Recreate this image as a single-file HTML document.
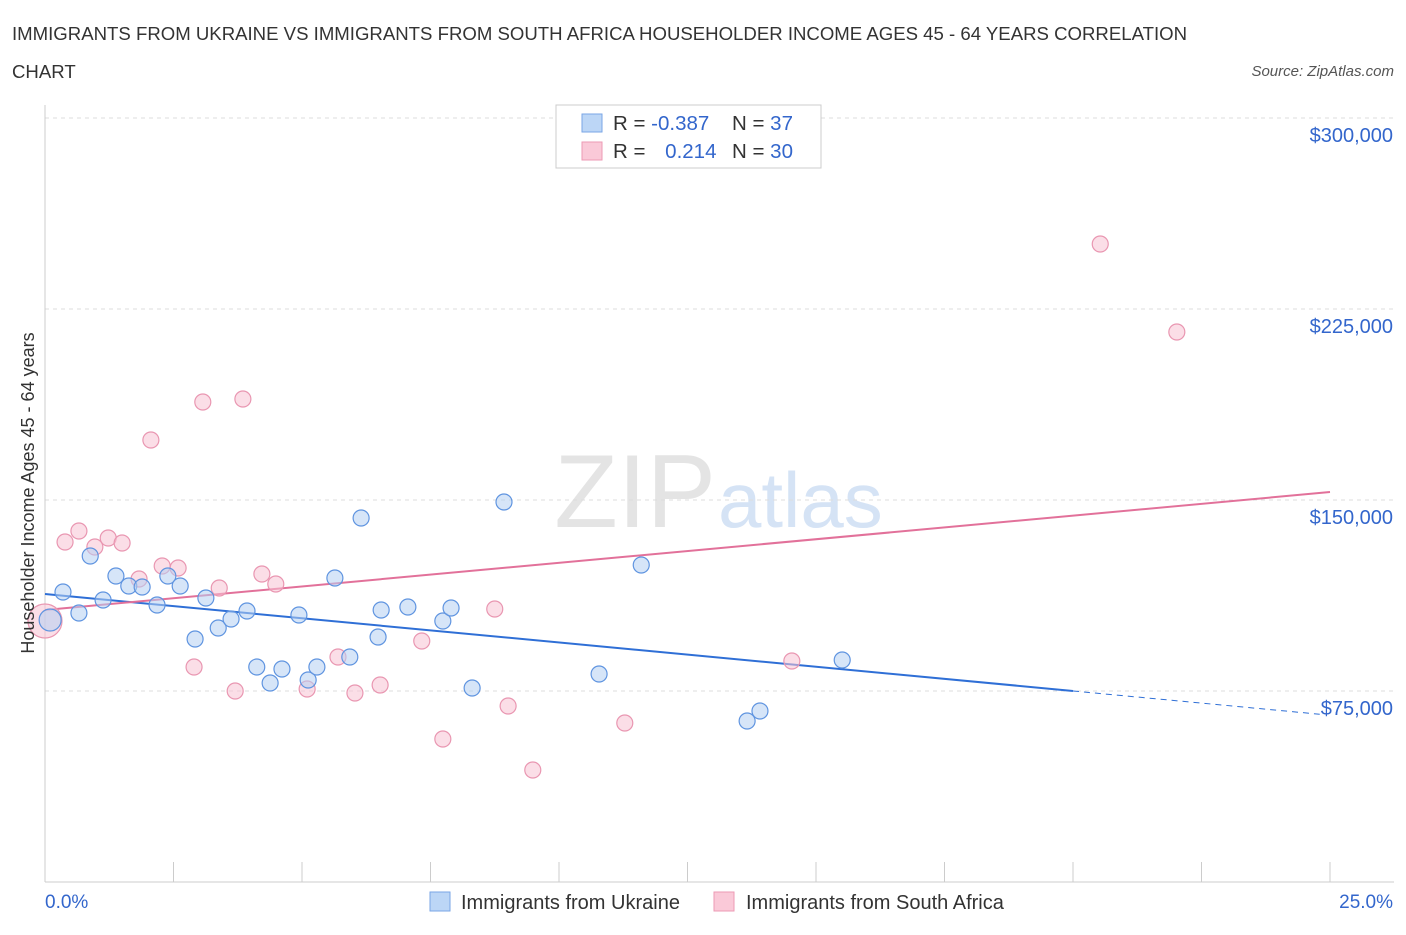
<!DOCTYPE html>
<html><head><meta charset="utf-8"><style>
body{margin:0;background:#fff;font-family:"Liberation Sans",sans-serif;}
svg text{font-family:"Liberation Sans",sans-serif;}
</style></head><body>
<svg id="chart" width="1406" height="930" xmlns="http://www.w3.org/2000/svg">
<text x="12" y="40" font-size="18.6" fill="#333">IMMIGRANTS FROM UKRAINE VS IMMIGRANTS FROM SOUTH AFRICA HOUSEHOLDER INCOME AGES 45 - 64 YEARS CORRELATION</text>
<text x="12" y="78" font-size="18.6" fill="#333">CHART</text>
<text x="1394" y="76" font-size="15" fill="#555" font-style="italic" text-anchor="end">Source: ZipAtlas.com</text>
<text x="716" y="527" font-size="104" text-anchor="end" fill="#e4e4e4" font-family="Liberation Serif">ZIP</text>
<text x="718" y="527" font-size="78" fill="#d5e3f5">atlas</text>
<g id="grid"></g>
<g id="axes"></g>
<g id="lines"></g>
<g id="pts"></g>
<text transform="translate(34,493) rotate(-90)" font-size="18" fill="#333" text-anchor="middle">Householder Income Ages 45 - 64 years</text>
<g>
<rect x="556" y="105" width="265" height="63" fill="#fff" stroke="#ccc"/>
<rect x="582" y="114" width="20" height="18" fill="#bcd6f6" stroke="#7aa6e6"/>
<rect x="582" y="142" width="20" height="18" fill="#fac9d8" stroke="#ec9ab4"/>
<text x="613" y="130" font-size="20.5" fill="#333">R = <tspan fill="#3366cc">-0.387</tspan></text>
<text x="732" y="130" font-size="20.5" fill="#333">N = <tspan fill="#3366cc">37</tspan></text>
<text x="613" y="158" font-size="20.5" fill="#333">R = <tspan fill="#3366cc" dx="14">0.214</tspan></text>
<text x="732" y="158" font-size="20.5" fill="#333">N = <tspan fill="#3366cc">30</tspan></text>
</g>
<g>
<rect x="430" y="892" width="20" height="19" fill="#bcd6f6" stroke="#7aa6e6"/>
<text x="461" y="909" font-size="20" fill="#333">Immigrants from Ukraine</text>
<rect x="714" y="892" width="20" height="19" fill="#fac9d8" stroke="#ec9ab4"/>
<text x="746" y="909" font-size="20" fill="#333">Immigrants from South Africa</text>
</g>
</svg>
<script>
const xTicksPct=[0,2.5,5,7.5,10,12.5,15,17.5,20,22.5,25];
const yTickVals=[75000,150000,225000,300000];
const yTickLabels=["$75,000","$150,000","$225,000","$300,000"];
const ukraineX=[0.1,0.35,0.66,0.88,1.13,1.38,1.63,1.89,2.18,2.39,2.63,2.92,3.13,3.37,3.62,3.93,4.12,4.38,4.61,4.94,5.12,5.29,5.64,5.93,6.15,6.48,6.54,7.06,7.74,7.90,8.31,8.93,10.78,11.60,13.66,13.91,15.51];
const ukraineY=[102880,113870,105630,128010,110730,120160,116230,115840,108770,120160,116230,95420,111520,99740,103270,106410,84420,78140,83640,104840,79320,84420,119370,88350,142930,96200,106800,107980,102490,107590,76180,149210,81680,124480,63220,67150,87170];
const safricaX=[0,0.39,0.66,0.97,1.23,1.5,1.83,2.06,2.28,2.59,2.9,3.07,3.39,3.7,3.85,4.22,4.49,5.1,5.7,6.03,6.52,7.33,7.74,8.75,9.01,9.49,11.28,14.53,20.53,22.02];
const safricaY=[102490,133510,137830,131540,135080,133120,118980,173560,124080,123300,84420,188480,115450,75000,189660,120940,117020,75790,88350,74210,77360,94630,56150,107200,69110,43980,62430,86780,250520,215970];
const blueTrend=[113090,-1904];
const pinkTrend=[106800,1853];
const NS="http://www.w3.org/2000/svg";
const X=v=>45+v*51.4, Y=v=>882-v/75000*191;
function mk(t,a,p){const e=document.createElementNS(NS,t);for(const k in a)e.setAttribute(k,a[k]);p.appendChild(e);return e;}
const grid=document.getElementById('grid'),axes=document.getElementById('axes'),lines=document.getElementById('lines'),pts=document.getElementById('pts');
yTickVals.forEach((v,i)=>{
 const l=mk('line',{x1:45,x2:1394,y1:Y(v),y2:Y(v),stroke:'#ddd','stroke-dasharray':'4,4'},grid);
 
 
 const t=mk('text',{x:1393,y:Y(v)+24,'font-size':20,fill:'#3366cc','text-anchor':'end'},grid);
 t.textContent=yTickLabels[i];
 
 
});
const xa=mk('line',{x1:45,x2:1394,y1:882,y2:882,stroke:'#ccc'},axes);


const ya=mk('line',{x1:45,x2:45,y1:105,y2:882,stroke:'#ccc'},axes);


xTicksPct.forEach(v=>{const t=mk('line',{x1:X(v),x2:X(v),y1:862,y2:882,stroke:'#ccc'},axes);
 
 });
[["0.0%",45,"start"],["25.0%",1393,"end"]].forEach(a=>{const t=mk('text',{x:a[1],y:908,'font-size':19,fill:'#3366cc','text-anchor':a[2]},axes);t.textContent=a[0];
 
 });
const bt=v=>blueTrend[0]+blueTrend[1]*v, pt=v=>pinkTrend[0]+pinkTrend[1]*v;
let l1=mk('line',{x1:X(0),y1:Y(bt(0)),x2:X(20),y2:Y(bt(20)),stroke:'#2f6fd6','stroke-width':2},lines);


let l2=mk('line',{x1:X(20),y1:Y(bt(20)),x2:X(24.8),y2:Y(bt(24.8)),stroke:'#2f6fd6','stroke-width':1,'stroke-dasharray':'6,5'},lines);


let l3=mk('line',{x1:X(0),y1:Y(pt(0)),x2:X(25),y2:Y(pt(25)),stroke:'#e2719a','stroke-width':2},lines);


function dots(xs,ys,fill,stroke,name){xs.forEach((x,i)=>{const r=i===0?(name==='ukraine-point'?11:17):8;
 const c=mk('circle',{cx:X(x),cy:Y(ys[i]),r:r,fill:fill,'fill-opacity':0.55,stroke:stroke,'stroke-width':1.2},pts);
 
 });}
dots(safricaX,safricaY,'#f8c3d3','#e996b1','south-africa-point');
dots(ukraineX,ukraineY,'#b5d0f3','#5f94e0','ukraine-point');
</script>
</body></html>
